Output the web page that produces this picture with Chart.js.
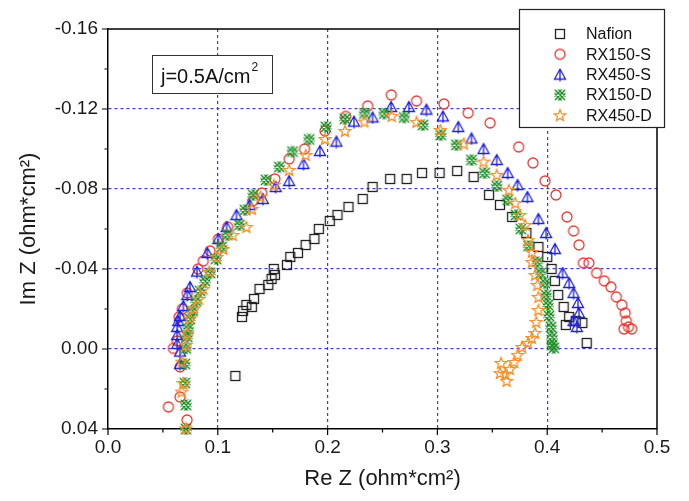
<!DOCTYPE html>
<html>
<head>
<meta charset="utf-8">
<script src="https://cdn.jsdelivr.net/npm/chart.js@4.4.1/dist/chart.umd.min.js"></script>
<style>
  body { margin: 0; background: #fff; }
  canvas { display: block; }
</style>
</head>
<body>
<canvas id="eisChart" width="689" height="501"></canvas>
<script>
// Nyquist plot data, [Re Z, Im Z] in ohm*cm2
const nafion = [[0.116,0.0135],[0.122,-0.016],[0.123,-0.019],[0.126,-0.022],[0.131,-0.021],[0.133,-0.025],
  [0.138,-0.030],[0.146,-0.032],[0.149,-0.035],[0.152,-0.037],[0.151,-0.040],[0.163,-0.042],[0.166,-0.046],
  [0.173,-0.048],[0.180,-0.052],[0.188,-0.055],[0.192,-0.060],[0.202,-0.064],[0.209,-0.067],[0.219,-0.071],
  [0.232,-0.075],[0.241,-0.081],[0.257,-0.085],[0.272,-0.085],[0.286,-0.088],[0.302,-0.088],[0.318,-0.089],
  [0.333,-0.086],[0.347,-0.077],[0.357,-0.072],[0.368,-0.066],[0.381,-0.058],[0.392,-0.051],[0.400,-0.046],
  [0.404,-0.040],[0.407,-0.034],[0.410,-0.027],[0.415,-0.021],[0.420,-0.016],[0.417,-0.012],[0.426,-0.014],
  [0.432,-0.013],[0.436,-0.003]];
const rx150s = [[0.055,0.029],[0.072,0.0355],[0.0656,0.024],[0.0656,0.009],[0.0595,-0.0003],[0.063,-0.004],
  [0.0647,-0.016],[0.0677,-0.020],[0.0722,-0.028],[0.082,-0.040],[0.0868,-0.044],[0.093,-0.049],[0.1005,-0.055],
  [0.109,-0.061],[0.1318,-0.074],[0.140,-0.078],[0.152,-0.085],[0.165,-0.095],[0.179,-0.100],[0.1976,-0.109],
  [0.2165,-0.1163],[0.2365,-0.1215],[0.258,-0.127],[0.281,-0.124],[0.306,-0.1225],[0.328,-0.118],[0.348,-0.113],
  [0.374,-0.101],[0.387,-0.093],[0.398,-0.084],[0.408,-0.077],[0.418,-0.066],[0.424,-0.059],[0.429,-0.052],
  [0.433,-0.043],[0.438,-0.043],[0.445,-0.038],[0.452,-0.034],[0.458,-0.031],[0.463,-0.026],[0.468,-0.022],
  [0.471,-0.018],[0.472,-0.014],[0.470,-0.010],[0.474,-0.011],[0.477,-0.010]];
const rx450s = [[0.0656,0.0075],[0.0656,0.0013],[0.063,-0.0025],[0.063,-0.007],[0.063,-0.011],[0.064,-0.014],
  [0.0656,-0.0165],[0.0686,-0.0215],[0.0722,-0.027],[0.0747,-0.031],[0.081,-0.0387],[0.0905,-0.048],[0.1005,-0.055],
  [0.108,-0.061],[0.117,-0.067],[0.129,-0.072],[0.141,-0.075],[0.1527,-0.081],[0.165,-0.084],[0.178,-0.0925],
  [0.193,-0.099],[0.208,-0.1037],[0.224,-0.1137],[0.241,-0.1158],[0.2578,-0.121],[0.274,-0.121],[0.290,-0.1197],
  [0.305,-0.1163],[0.319,-0.111],[0.331,-0.1053],[0.342,-0.100],[0.354,-0.0945],[0.364,-0.088],[0.373,-0.082],
  [0.382,-0.076],[0.392,-0.065],[0.399,-0.058],[0.407,-0.050],[0.414,-0.038],[0.420,-0.033],[0.424,-0.028],
  [0.428,-0.023],[0.429,-0.018],[0.424,-0.014],[0.427,-0.011]];
const rx150d = [[0.071,0.040],[0.071,0.028],[0.070,0.017],[0.070,0.0075],[0.071,-0.0003],[0.0722,-0.006],
  [0.0732,-0.010],[0.0747,-0.015],[0.077,-0.019],[0.080,-0.024],[0.0838,-0.029],[0.0883,-0.034],[0.0929,-0.038],
  [0.0984,-0.045],[0.1035,-0.051],[0.1087,-0.057],[0.1196,-0.062],[0.1248,-0.0695],[0.1323,-0.077],[0.1439,-0.0845],
  [0.156,-0.091],[0.168,-0.0987],[0.1832,-0.1048],[0.1985,-0.111],[0.2158,-0.115],[0.2336,-0.1178],[0.2515,-0.1177],
  [0.2697,-0.1158],[0.2868,-0.112],[0.303,-0.107],[0.3173,-0.102],[0.331,-0.0945],[0.343,-0.088],[0.354,-0.0815],
  [0.364,-0.0745],[0.3716,-0.067],[0.376,-0.060],[0.383,-0.0515],[0.391,-0.0435],[0.394,-0.038],[0.398,-0.033],
  [0.399,-0.027],[0.4007,-0.022],[0.4016,-0.0165],[0.4035,-0.011],[0.4044,-0.006],[0.4044,-0.002],[0.406,-0.0005]];
const rx450d = [[0.071,0.0397],[0.067,0.0213],[0.0686,0.017],[0.067,0.0063],[0.071,-0.002],[0.0722,-0.0078],
  [0.0747,-0.0153],[0.0783,-0.0203],[0.0825,-0.025],[0.0868,-0.030],[0.0923,-0.0387],[0.099,-0.046],[0.105,-0.050],
  [0.1135,-0.057],[0.126,-0.061],[0.131,-0.070],[0.139,-0.0762],[0.151,-0.082],[0.165,-0.0895],[0.180,-0.097],
  [0.1976,-0.105],[0.2158,-0.109],[0.2335,-0.1137],[0.2584,-0.1165],[0.281,-0.1135],[0.3027,-0.1095],[0.324,-0.1027],
  [0.342,-0.0937],[0.354,-0.087],[0.365,-0.0795],[0.371,-0.073],[0.375,-0.067],[0.380,-0.062],[0.3825,-0.0545],
  [0.386,-0.0485],[0.386,-0.0435],[0.389,-0.037],[0.391,-0.032],[0.392,-0.026],[0.392,-0.0195],[0.390,-0.0135],
  [0.389,-0.008],[0.386,-0.0055],[0.3825,-0.003],[0.377,-0.001],[0.373,0.003],[0.370,0.0065],[0.366,0.010],
  [0.362,0.0125],[0.358,0.007],[0.357,0.012],[0.363,0.016]];

const seriesNames = ['Nafion', 'RX150-S', 'RX450-S', 'RX150-D', 'RX450-D'];
const xTicks = [0, 0.1, 0.2, 0.3, 0.4, 0.5];
const xMinor = [0.05, 0.15, 0.25, 0.35, 0.45];
const yTicks = [-0.16, -0.12, -0.08, -0.04, 0.00, 0.04];
const yMinor = [-0.14, -0.10, -0.06, -0.02, 0.02];
const noteText = 'j=0.5A/cm';

const FONT = '"Liberation Sans", Arial, sans-serif';
const GRID_BLUE = '#3b3bdc';

// little canvases used as point symbols
function makeSymbol(kind, color) {
  const c = document.createElement('canvas');
  c.width = 14; c.height = 14;
  const g = c.getContext('2d');
  g.strokeStyle = color;
  g.lineWidth = 1.3;
  if (kind === 'square') {
    g.strokeRect(2.5, 2.5, 9, 9);
  } else if (kind === 'circle') {
    g.beginPath(); g.arc(7, 7, 5, 0, Math.PI * 2); g.stroke();
  } else if (kind === 'triangle') {
    g.beginPath();
    g.moveTo(7, 1.5); g.lineTo(12.5, 11.5); g.lineTo(1.5, 11.5); g.closePath();
    g.moveTo(7, 1.5); g.lineTo(7, 13.5);
    g.stroke();
  } else if (kind === 'hatch') {
    g.save();
    g.beginPath(); g.rect(1.5, 1.5, 11, 11); g.clip();
    g.lineWidth = 1.5;
    g.beginPath();
    [-4, 0, 4].forEach(k => {
      g.moveTo(0, k); g.lineTo(14, 14 + k);
      g.moveTo(0, 14 + k); g.lineTo(14, k);
    });
    g.stroke();
    g.restore();
  } else if (kind === 'star') {
    g.beginPath();
    for (let i = 0; i < 10; i++) {
      const r = i % 2 === 0 ? 6 : 2.6;
      const a = -Math.PI / 2 + i * Math.PI / 5;
      const px = 7 + r * Math.cos(a), py = 7.5 + r * Math.sin(a);
      if (i === 0) g.moveTo(px, py); else g.lineTo(px, py);
    }
    g.closePath();
    g.stroke();
  }
  return c;
}

const symbols = [
  makeSymbol('square', '#222222'),
  makeSymbol('circle', '#ec3a34'),
  makeSymbol('triangle', '#2020e0'),
  makeSymbol('hatch', '#23912b'),
  makeSymbol('star', '#f5902a')
];
const seriesData = [nafion, rx150s, rx450s, rx150d, rx450d];

const frameAndLegend = {
  id: 'frameAndLegend',
  afterDraw(chart) {
    const ctx = chart.ctx;
    const a = chart.chartArea;
    const xs = chart.scales.x, ys = chart.scales.y;
    ctx.save();
    // frame top/right
    ctx.strokeStyle = '#000';
    ctx.lineWidth = 1.5;
    ctx.beginPath();
    ctx.moveTo(a.left, a.top); ctx.lineTo(a.right, a.top); ctx.lineTo(a.right, a.bottom);
    ctx.stroke();
    // ticks
    ctx.lineWidth = 1.2;
    ctx.beginPath();
    xTicks.forEach(v => { const p = xs.getPixelForValue(v); ctx.moveTo(p, a.bottom); ctx.lineTo(p, a.bottom + 6); });
    xMinor.forEach(v => { const p = xs.getPixelForValue(v); ctx.moveTo(p, a.bottom); ctx.lineTo(p, a.bottom + 3.5); });
    yTicks.forEach(v => { const p = ys.getPixelForValue(v); ctx.moveTo(a.left, p); ctx.lineTo(a.left - 6, p); });
    yMinor.forEach(v => { const p = ys.getPixelForValue(v); ctx.moveTo(a.left, p); ctx.lineTo(a.left - 3.5, p); });
    ctx.stroke();

    // annotation box
    ctx.fillStyle = '#fff';
    ctx.fillRect(152, 55, 120, 38);
    ctx.lineWidth = 1;
    ctx.strokeStyle = '#333';
    ctx.strokeRect(152.5, 55.5, 120, 38);
    ctx.fillStyle = '#111';
    ctx.textBaseline = 'middle';
    ctx.textAlign = 'left';
    ctx.font = '20px ' + FONT;
    ctx.fillText(noteText, 161, 77);
    const w = ctx.measureText(noteText).width;
    ctx.font = '12px ' + FONT;
    ctx.fillText('2', 161 + w + 1, 68);

    // legend
    ctx.fillStyle = '#fff';
    ctx.fillRect(519, 9, 145, 118);
    ctx.strokeStyle = '#222';
    ctx.lineWidth = 1.2;
    ctx.strokeRect(519.5, 9.5, 145, 118);
    ctx.font = '16px ' + FONT;
    ctx.fillStyle = '#111';
    chart.data.datasets.forEach((ds, i) => {
      const y = 34 + i * 20.3;
      const img = symbols[i];
      ctx.drawImage(img, 560 - img.width / 2, y - img.height / 2);
      ctx.fillText(ds.label, 586, y + 1);
    });
    ctx.restore();
  }
};

const ctx = document.getElementById('eisChart').getContext('2d');
new Chart(ctx, {
  type: 'scatter',
  data: {
    datasets: seriesNames.map((name, i) => ({
      label: name,
      data: seriesData[i].map(p => ({ x: p[0], y: p[1] })),
      pointStyle: symbols[i],
      pointRadius: 5,
      clip: false,
      order: 4 - i
    }))
  },
  options: {
    responsive: false,
    animation: false,
    events: [],
    layout: { padding: { top: 29, right: 32, left: 0, bottom: 0 } },
    plugins: { legend: { display: false }, tooltip: { enabled: false } },
    scales: {
      x: {
        type: 'linear',
        min: 0, max: 0.5,
        afterFit: s => { s.height = 72; },
        afterBuildTicks: s => { s.ticks = xTicks.map(v => ({ value: v })); },
        ticks: {
          padding: 7,
          color: '#1a1a1a',
          font: { family: FONT, size: 19 },
          callback: v => Number(v).toFixed(1)
        },
        grid: {
          drawTicks: false,
          lineWidth: 1.2,
          color: c => (c.tick && (c.tick.value === 0 || c.tick.value === 0.5)) ? 'rgba(0,0,0,0)' : GRID_BLUE
        },
        border: { display: true, color: '#000', width: 1.5, dash: [3, 3] },
        title: {
          display: true,
          text: 'Re Z (ohm*cm²)',
          color: '#1a1a1a',
          font: { family: FONT, size: 22 },
          padding: { top: 0, bottom: 9 }
        }
      },
      y: {
        type: 'linear',
        min: -0.16, max: 0.04,
        reverse: true,
        afterFit: s => { s.width = 108; },
        afterBuildTicks: s => { s.ticks = yTicks.map(v => ({ value: v })); },
        ticks: {
          padding: 10,
          color: '#1a1a1a',
          font: { family: FONT, size: 19 },
          callback: v => Number(v).toFixed(2)
        },
        grid: {
          drawTicks: false,
          lineWidth: 1.2,
          color: c => (c.tick && (Math.abs(c.tick.value + 0.16) < 1e-9 || Math.abs(c.tick.value - 0.04) < 1e-9)) ? 'rgba(0,0,0,0)' : GRID_BLUE
        },
        border: { display: true, color: '#000', width: 1.5, dash: [3, 3] },
        title: {
          display: true,
          text: 'Im Z (ohm*cm²)',
          color: '#1a1a1a',
          font: { family: FONT, size: 22 },
          padding: { top: 16, bottom: 0 }
        }
      }
    }
  },
  plugins: [frameAndLegend]
});
</script>
</body>
</html>
